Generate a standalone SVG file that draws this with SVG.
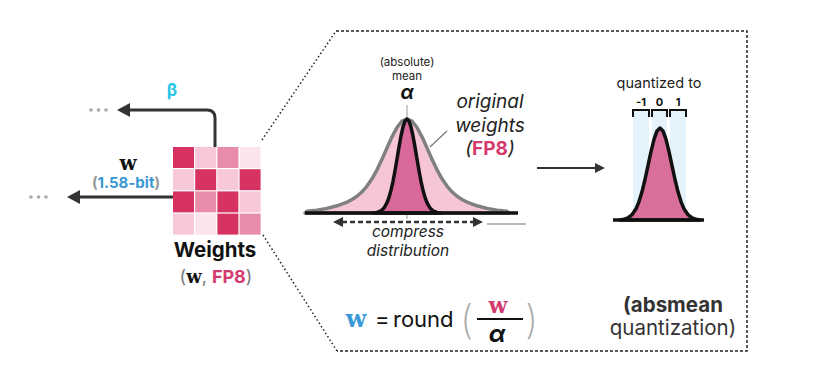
<svg xmlns="http://www.w3.org/2000/svg" width="826" height="385" viewBox="0 0 826 385">
<style>
.t{font-family:Inter,"Noto Sans","Liberation Sans",sans-serif;}
.it{font-style:italic;}
.b{font-weight:700;}
.ser{font-family:"DejaVu Serif","Liberation Serif",serif;font-weight:700;}
.dot{fill:none;stroke:#222;stroke-width:1.5;stroke-dasharray:1.5 2.5;}
.dash{fill:none;stroke:#222;stroke-width:1.5;stroke-dasharray:3 2;}
.cd{fill:#d63362;}.cl{fill:#f8c8d8;}.cm{fill:#e88da9;}.cv{fill:#fce4ec;}
.ar{fill:none;stroke:#333;stroke-linecap:butt;}
.pk{fill:#d43a6e;}
.band{fill:#e4f2fb;}
</style>
<defs>
<marker id="ah" markerUnits="userSpaceOnUse" markerWidth="14" markerHeight="14" refX="1" refY="7" orient="auto-start-reverse" viewBox="0 0 14 14">
<path d="M0 0 L13 7 L0 14 Z" fill="#333"/>
</marker>
<marker id="ahs" markerUnits="userSpaceOnUse" markerWidth="12" markerHeight="12" refX="1" refY="5" orient="auto-start-reverse" viewBox="0 0 12 10">
<path d="M0 0 L10 5 L0 10 Z" fill="#333"/>
</marker>
</defs>
<rect width="826" height="385" fill="#fff"/>

<g id="zoom-box">
<path class="dot" d="M262 140 L336 31"/>
<path class="dot" d="M263 235 L337 351"/>
<path class="dash" d="M336 31 H747 V351 H337"/>
</g>

<g id="weights">
<rect class="cd" x="173" y="147" width="21" height="21"/>
<rect class="cl" x="195.2" y="147" width="21" height="21"/>
<rect class="cm" x="217.4" y="147" width="21" height="21"/>
<rect class="cv" x="239.6" y="147" width="21" height="21"/>
<rect class="cl" x="173" y="169.2" width="21" height="21"/>
<rect class="cd" x="195.2" y="169.2" width="21" height="21"/>
<rect class="cl" x="217.4" y="169.2" width="21" height="21"/>
<rect class="cd" x="239.6" y="169.2" width="21" height="21"/>
<rect class="cd" x="173" y="191.4" width="21" height="21"/>
<rect class="cm" x="195.2" y="191.4" width="21" height="21"/>
<rect class="cd" x="217.4" y="191.4" width="21" height="21"/>
<rect class="cl" x="239.6" y="191.4" width="21" height="21"/>
<rect class="cl" x="173" y="213.6" width="21" height="21"/>
<rect class="cv" x="195.2" y="213.6" width="21" height="21"/>
<rect class="cd" x="217.4" y="213.6" width="21" height="21"/>
<rect class="cm" x="239.6" y="213.6" width="21" height="21"/>
<text class="t b" x="215" y="257" font-size="20.5" text-anchor="middle" fill="#111">Weights</text>
<text class="t" x="216" y="283" font-size="18" text-anchor="middle" fill="#777">(<tspan class="ser" fill="#111" font-size="18">w</tspan>, <tspan class="b pk">FP8</tspan>)</text>
</g>

<g id="outputs">
<text class="t b" x="172" y="96" font-size="17" text-anchor="middle" fill="#2bc4e6">β</text>
<text class="ser" x="128" y="170" font-size="20" text-anchor="middle" fill="#111">w</text>
<text class="t b" x="126" y="188" font-size="15" text-anchor="middle" fill="#999">(<tspan fill="#3a97d4">1.58-bit</tspan>)</text>
<g fill="#aaa">
<circle cx="91" cy="110" r="1.8"/><circle cx="98.5" cy="110" r="1.8"/><circle cx="106" cy="110" r="1.8"/>
<circle cx="31" cy="197" r="1.8"/><circle cx="38.5" cy="197" r="1.8"/><circle cx="46" cy="197" r="1.8"/>
</g>
</g>

<g id="original-distribution">
<line x1="407" y1="105" x2="407" y2="219" stroke="#aaa" stroke-width="1.2"/>
<path d="M305 213 L307 211.3 L317 210.2 L327 208.4 L337 205.8 L347 202.1 L352 199.5 L357 196.2 L362 191.8 L367 186.1 L372 178.8 L377 169.8 L382 159.2 L387 147.9 L392 136.8 L397 127.5 L402 121.2 L407 119 L412 121.2 L417 127.5 L422 136.8 L427 147.9 L432 159.2 L437 169.8 L442 178.8 L447 186.1 L452 191.8 L457 196.2 L462 199.5 L467 202.1 L477 205.8 L487 208.4 L497 210.2 L507 211.3 L509 213 Z" fill="#f6c6d7" stroke="#808080" stroke-width="3.5" stroke-linejoin="round"/>
<path d="M373 213 L377 212.4 L381 210.8 L384 208 L387 202.7 L389 197.4 L391 190.2 L393 181.3 L395 170.7 L397 159 L399 147.1 L401 136 L403 127 L405 121.1 L407 119 L409 121.1 L411 127 L413 136 L415 147.1 L417 159 L419 170.7 L421 181.3 L423 190.2 L425 197.4 L427 202.7 L430 208 L433 210.8 L437 212.4 L441 213 Z" fill="#d8699a" stroke="#111" stroke-width="3.5" stroke-linejoin="round"/>
<line x1="305" y1="213" x2="518" y2="213" stroke="#111" stroke-width="3.5"/>
<text class="t" x="407" y="66" font-size="11.5" text-anchor="middle" fill="#222">(absolute)</text>
<text class="t" x="407" y="80" font-size="11.5" text-anchor="middle" fill="#222">mean</text>
<text class="t b it" x="407" y="99" font-size="19" text-anchor="middle" fill="#111">α</text>
<text class="t it" x="490" y="108" font-size="19" text-anchor="middle" fill="#222">original</text>
<text class="t it" x="490" y="132" font-size="19" text-anchor="middle" fill="#222">weights</text>
<text class="t it" x="490" y="155" font-size="19" text-anchor="middle" fill="#222">(<tspan class="b pk" font-style="normal">FP8</tspan>)</text>
<text class="t it" x="408" y="237" font-size="15.5" text-anchor="middle" fill="#222">compress</text>
<text class="t it" x="408" y="256" font-size="15.5" text-anchor="middle" fill="#222">distribution</text>
</g>

<g id="quantized-distribution">
<rect class="band" x="633" y="110" width="16" height="110"/>
<rect class="band" x="652" y="110" width="15" height="110"/>
<rect class="band" x="670" y="110" width="16" height="110"/>
<path d="M620 220 L624 219.2 L628 217.8 L632 214.7 L636 208.8 L639 201.6 L642 191.8 L645 179.5 L648 165.6 L651 151.6 L654 139.3 L657 130.9 L660 128 L663 130.9 L666 139.3 L669 151.6 L672 165.6 L675 179.5 L678 191.8 L681 201.6 L684 208.8 L688 214.7 L692 217.8 L696 219.2 L700 220 Z" fill="#d96f9b" stroke="#111" stroke-width="3.5" stroke-linejoin="round"/>
<line x1="613" y1="220" x2="704" y2="220" stroke="#111" stroke-width="3.5"/>
<path d="M633 117 V110 H649 V117 M652 117 V110 H667 V117 M670 117 V110 H686 V117" fill="none" stroke="#111" stroke-width="2"/>
<text class="t b" x="641" y="106" font-size="11" text-anchor="middle" fill="#111">-1</text>
<text class="t b" x="659.5" y="106" font-size="11" text-anchor="middle" fill="#111">0</text>
<text class="t b" x="678" y="106" font-size="11" text-anchor="middle" fill="#111">1</text>
<text class="t" x="659" y="88" font-size="14.5" text-anchor="middle" fill="#222">quantized to</text>
</g>

<g id="formula">
<text class="ser" x="356" y="327" font-size="24" text-anchor="middle" fill="#3a9ad9">w</text>
<text class="t" font-size="22" fill="#111"><tspan x="375" y="327">=</tspan><tspan x="393" y="327">round</tspan></text>
<text class="t" x="460" y="334" font-size="40" font-weight="200" fill="#aaa">(</text>
<text class="t" x="525" y="334" font-size="40" font-weight="200" fill="#aaa">)</text>
<text class="ser" x="498" y="313" font-size="22" text-anchor="middle" fill="#d43a6e">w</text>
<line x1="477" y1="319" x2="523" y2="319" stroke="#111" stroke-width="2"/>
<text class="t b it" x="497" y="342" font-size="24" text-anchor="middle" fill="#111">α</text>
</g>

<g id="absmean-label">
<text class="t b" x="673" y="312" font-size="20.5" text-anchor="middle" fill="#333">(absmean</text>
<text class="t" x="673" y="335" font-size="20.5" text-anchor="middle" fill="#333">quantization)</text>
</g>

<g id="connectors">
<path class="ar" d="M215 147 V118 Q215 110 207 110 H129" stroke-width="3" marker-end="url(#ah)"/>
<path class="ar" d="M173 197 H79" stroke-width="3" marker-end="url(#ah)"/>
<path class="ar" d="M537 168 H596" stroke-width="2" marker-end="url(#ahs)"/>
<path class="ar" d="M342 222 H474" stroke-width="2.5" stroke-dasharray="5 3" marker-start="url(#ahs)" marker-end="url(#ahs)"/>
<line x1="487" y1="224" x2="526" y2="224" stroke="#777" stroke-width="1.2"/>
<line x1="430" y1="147" x2="447" y2="131" stroke="#777" stroke-width="1.2"/>
</g>
</svg>
